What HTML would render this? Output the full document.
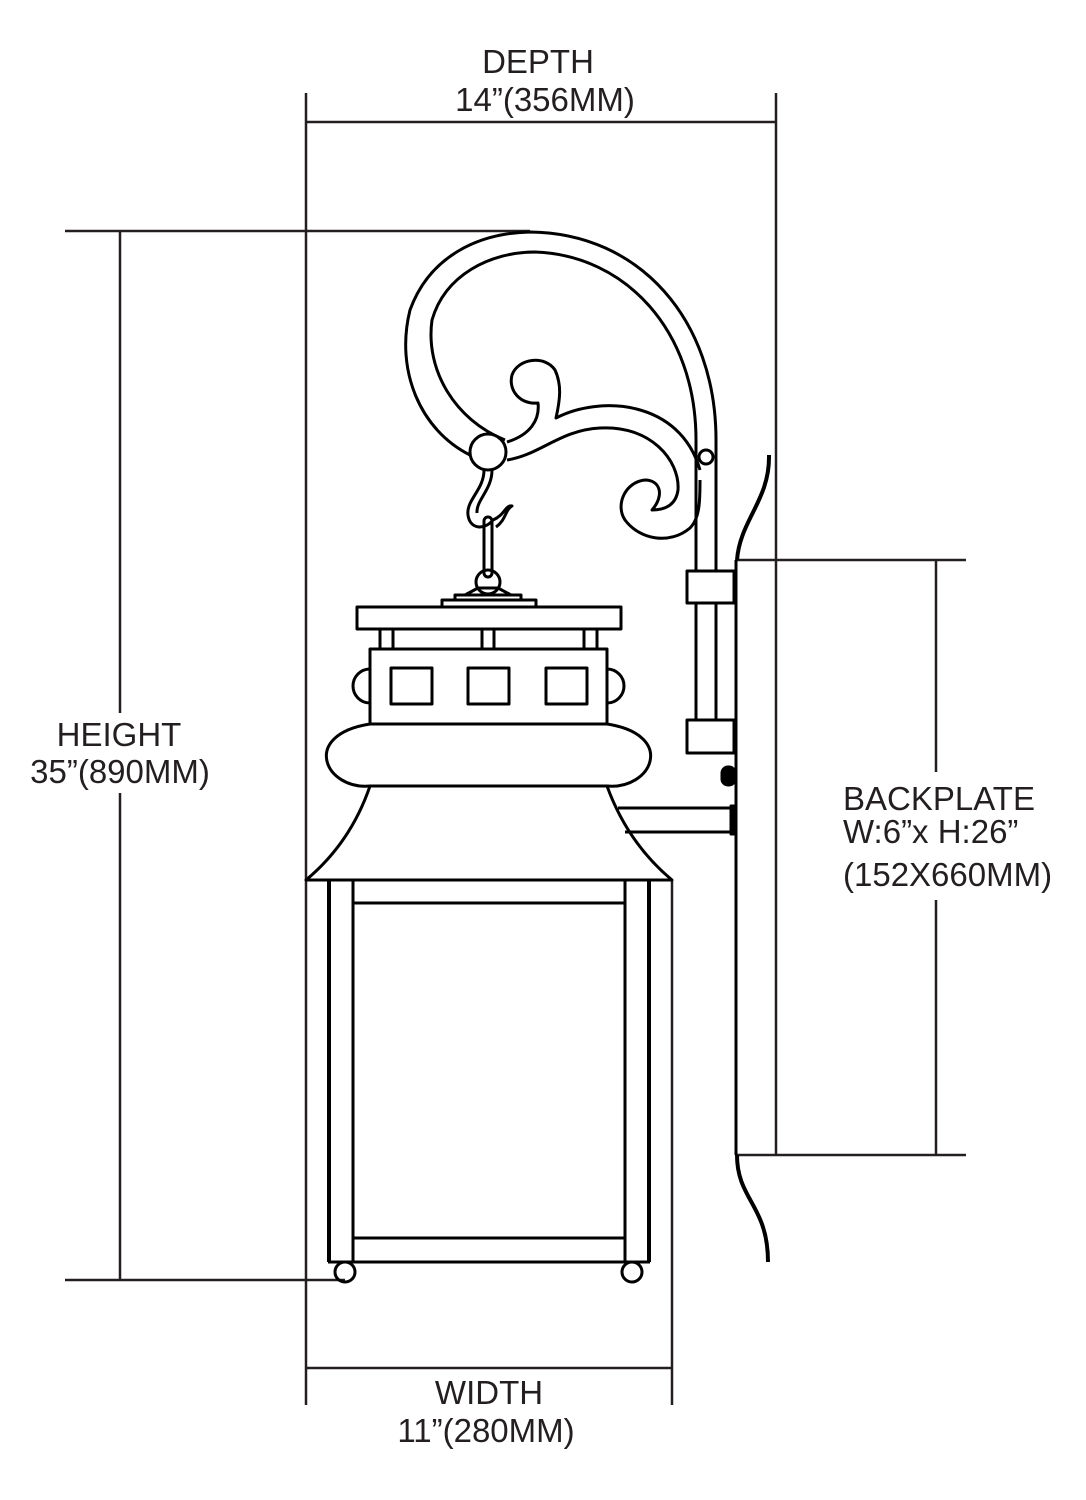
<!DOCTYPE html>
<html><head><meta charset="utf-8"><style>
html,body{margin:0;padding:0;background:#fff}
svg{display:block}
text{font-family:"Liberation Sans",Arial,sans-serif;font-size:33px;fill:#231f20}
</style></head><body>
<svg width="1086" height="1500" viewBox="0 0 1086 1500" xmlns="http://www.w3.org/2000/svg">
<g stroke="#231f20" stroke-width="2.5" fill="none">
<line x1="306" y1="93" x2="306" y2="1405"/>
<line x1="776" y1="93" x2="776" y2="560"/>
<line x1="306" y1="122" x2="776" y2="122"/>
<line x1="65" y1="231" x2="530" y2="231"/>
<line x1="65" y1="1280" x2="345" y2="1280"/>
<line x1="120" y1="231" x2="120" y2="1280"/>
<line x1="672" y1="880" x2="672" y2="1405"/>
<line x1="306" y1="1368" x2="672" y2="1368"/>
<line x1="736" y1="560" x2="966" y2="560"/>
<line x1="736" y1="1155" x2="966" y2="1155"/>
<line x1="936" y1="560" x2="936" y2="1155"/>
<line x1="776" y1="560" x2="776" y2="1155"/>
</g>
<rect x="30" y="713" width="190" height="80" fill="#fff"/>
<rect x="836" y="772" width="226" height="128" fill="#fff"/>
<g stroke="#000" stroke-width="3" fill="none" stroke-linejoin="round">
<line x1="736" y1="560" x2="736" y2="1155"/>
<path d="M470,455 C420,430 395,370 410,310 C430,255 480,233 530,232 C640,233 716,320 716,440 L716,572"/>
<path d="M505,440 C455,420 425,370 432,320 C445,275 490,252 535,252 C625,255 696,330 696,440 L696,572"/>
<path d="M507,442 C530,435 540,420 538,403 C520,405 508,390 512,375 C518,358 545,355 555,370 C562,385 560,400 556,418 C600,395 680,400 700,470"/>
<path d="M507,460 C540,455 560,430 600,428 C650,425 680,460 678,490 C676,505 665,510 652,510 C665,495 660,480 645,480 C625,482 615,505 625,520 C640,540 670,545 690,528 C700,518 700,500 700,480"/>
<circle cx="706" cy="457" r="7"/>
<circle cx="488" cy="452" r="18" fill="#fff"/>
<path d="M484,470 C484,490 466,500 468,515 C470,530 485,530 493,520"/>
<path d="M492,470 C492,490 476,500 477,513"/>
<path d="M493,520 C505,515 505,505 512,506 C505,510 506,520 496,527"/>
<rect x="484" y="517" width="8" height="60" rx="4"/>
<circle cx="488" cy="582" r="12"/>
<path d="M465,595 L478,588 L498,588 L511,595 Z"/>
<rect x="455" y="595" width="66" height="5"/>
<rect x="442" y="600" width="94" height="7"/>
<rect x="357" y="607" width="264" height="22"/>
<rect x="380" y="629" width="13" height="20"/><rect x="482" y="629" width="12" height="20"/><rect x="584" y="629" width="13" height="20"/>
<rect x="370" y="649" width="237" height="75"/>
<rect x="391" y="668" width="41" height="36"/><rect x="468" y="668" width="41" height="36"/><rect x="546" y="668" width="41" height="36"/>
<path d="M370,669 A17,17 0 0,0 370,703"/>
<path d="M607,669 A17,17 0 0,1 607,703"/>
<path d="M370,724 C300,735 325,790 370,786 L607,786 C652,790 677,735 607,724"/>
<path d="M370,786 C355,830 330,860 306,880 L672,880 C648,860 623,830 607,786"/>
<line x1="329" y1="880" x2="329" y2="1262" stroke-width="4"/>
<line x1="353" y1="880" x2="353" y2="1262"/>
<line x1="625" y1="880" x2="625" y2="1262"/>
<line x1="649" y1="880" x2="649" y2="1262" stroke-width="4"/>
<line x1="353" y1="903" x2="625" y2="903"/>
<line x1="353" y1="1238" x2="625" y2="1238"/>
<line x1="328" y1="1262" x2="650" y2="1262"/>
<circle cx="345" cy="1272" r="10"/><circle cx="632" cy="1272" r="10"/>
<rect x="687" y="571" width="47" height="32" fill="#fff"/>
<rect x="687" y="720" width="47" height="33" fill="#fff"/>
<line x1="696" y1="603" x2="696" y2="720"/><line x1="716" y1="603" x2="716" y2="720"/>
<rect x="722" y="767" width="13" height="18" rx="6" fill="#000"/>
<path d="M618,808 L733,808 M625,832 L733,832"/>
<rect x="731" y="806" width="5" height="28" fill="#000"/>
<path d="M769,455 C770,500 740,520 737,560" stroke-width="4"/>
<path d="M737,1155 C737,1200 768,1205 768,1262" stroke-width="4"/>
</g>
<text x="538" y="73" text-anchor="middle">DEPTH</text>
<text x="545" y="111" text-anchor="middle">14”(356MM)</text>
<text x="119" y="746" text-anchor="middle">HEIGHT</text>
<text x="120" y="783" text-anchor="middle">35”(890MM)</text>
<text x="489" y="1404" text-anchor="middle">WIDTH</text>
<text x="486" y="1442" text-anchor="middle">11”(280MM)</text>
<text x="843" y="810">BACKPLATE</text>
<text x="843" y="843">W:6”x H:26”</text>
<text x="843" y="886">(152X660MM)</text>
</svg>
</body></html>
